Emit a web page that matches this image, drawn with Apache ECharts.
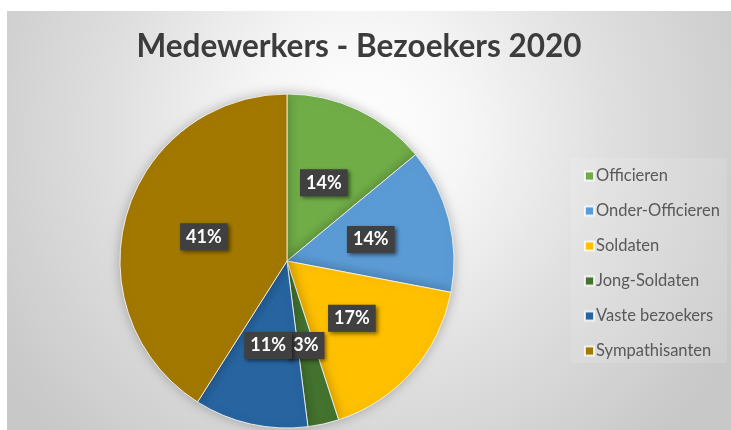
<!DOCTYPE html>
<html>
<head>
<meta charset="utf-8">
<script src="https://cdn.jsdelivr.net/npm/echarts@6/dist/echarts.min.js"></script>
<style>
html,body{margin:0;padding:0;background:#fff;}
#chart{width:731px;height:430px;}
</style>
</head>
<body>
<div id="chart"></div>
<script>
const titleText = 'Medewerkers - Bezoekers 2020';
const categories = ['Officieren', 'Onder-Officieren', 'Soldaten', 'Jong-Soldaten', 'Vaste bezoekers', 'Sympathisanten'];
const values = [14, 14, 17, 3, 11, 41];
const colors = ['#70AD47', '#5B9BD5', '#FFC000', '#43732F', '#2764A0', '#A27800'];

const chart = echarts.init(document.getElementById('chart'));
const data = categories.map((c, i) => ({ name: c, value: values[i], itemStyle: { color: colors[i] } }));

chart.setOption({
  animation: false,
  backgroundColor: '#ffffff',
  graphic: [{
    type: 'rect',
    z: -10,
    silent: true,
    shape: { x: 7, y: 11, width: 724, height: 419 },
    style: {
      fill: new echarts.graphic.RadialGradient(360, 130, 430, [
        { offset: 0, color: '#ffffff' },
        { offset: 0.25, color: '#f6f6f6' },
        { offset: 0.6, color: '#dedede' },
        { offset: 1, color: '#c8c8c8' }
      ], true)
    }
  }, {
    type: 'rect',
    z: -9,
    silent: true,
    shape: { x: 571, y: 158, width: 156, height: 205 },
    style: { fill: 'rgba(255,255,255,0.12)' }
  }],
  title: {
    text: titleText,
    left: 354,
    textAlign: 'center',
    top: 26,
    textStyle: { fontFamily: 'Lato', fontWeight: 'bold', fontSize: 31.5, color: '#3c3c3c' }
  },
  legend: {
    orient: 'vertical',
    left: 584,
    top: 167,
    itemWidth: 9,
    itemHeight: 9,
    itemGap: 17,
    icon: 'rect',
    padding: [0, 0, 0, 0],
    textStyle: { fontFamily: 'Lato', fontSize: 16.5, color: '#595959', lineHeight: 18, padding: [0, 0, 0, -3] },
    data: categories
  },
  series: [{
    type: 'pie',
    center: [287, 261],
    radius: [0, 167],
    startAngle: 90,
    clockwise: true,
    avoidLabelOverlap: false,
    minShowLabelAngle: 0,
    labelLayout: { hideOverlap: false },
    itemStyle: { borderColor: 'rgba(255,255,255,0.8)', borderWidth: 1, shadowBlur: 12, shadowColor: 'rgba(0,0,0,0.25)' },
    label: {
      show: true,
      position: 'inside',
      formatter: '{d}%',
      color: '#ffffff',
      fontFamily: 'Lato',
      fontWeight: 'bold',
      fontSize: 18,
      backgroundColor: '#404040',
      padding: [5, 6, 4, 6],
      shadowBlur: 4,
      shadowColor: 'rgba(0,0,0,0.5)',
      shadowOffsetX: 2,
      shadowOffsetY: 2
    },
    labelLine: { show: false },
    data: data
  }]
});
</script>
</body>
</html>
